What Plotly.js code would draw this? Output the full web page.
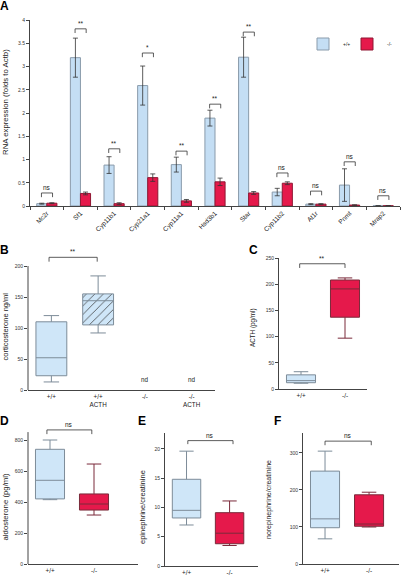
<!DOCTYPE html>
<html><head><meta charset="utf-8">
<script src="https://cdn.plot.ly/plotly-3.0.1.min.js"></script>
<style>html,body{margin:0;padding:0;background:#fff}#chart{width:401px;height:576px}</style>
</head><body><div id="chart"></div>
<script>
// ---------- Panel A data ----------
const genes = ['Mc2r','Sf1','Cyp11b1','Cyp21a1','Cyp11a1','Hsd3b1','Star','Cyp11b2','At1r','Pnmt','Mrap2'];
const wtA    = [0.05, 3.19, 0.88, 2.59, 0.89, 1.89, 3.20, 0.30, 0.04, 0.45, 0.005];
const wtAErr = [0.01, 0.42, 0.18, 0.42, 0.16, 0.17, 0.43, 0.08, 0.01, 0.35, 0];
const koA    = [0.06, 0.27, 0.05, 0.61, 0.11, 0.52, 0.28, 0.49, 0.04, 0.02, 0.005];
const koAErr = [0.01, 0.03, 0.02, 0.08, 0.03, 0.08, 0.03, 0.03, 0.01, 0.005, 0];
const sigA   = ['ns','**','**','*','**','**','**','ns','ns','ns','ns'];
const sigAy  = [0.28, 3.81, 1.23, 3.29, 1.18, 2.19, 3.74, 0.71, 0.32, 0.95, 0.22];
const legendLabels = ['+/+','-/-'];

// ---------- Panel B data (corticosterone) ----------
const groupsB = ['+/+','+/+<br>ACTH','-/-','-/-<br>ACTH'];
const q1B  = [23, 105];
const medB = [52, 144];
const q3B  = [110, 155];
const lfB  = [13, 92];
const ufB  = [120, 184];
const ndB  = ['nd','nd'];
const ticksB = [0,50,100,150,200];

// ---------- Panel C data (ACTH) ----------
const groupsC = ['+/+','-/-'];
const q1C  = [12, 137];
const medC = [16, 191];
const q3C  = [27, 208];
const lfC  = [11, 97];
const ufC  = [33, 212];
const ticksC = [0,50,100,150,200,250];

// ---------- Panel D data (aldosterone) ----------
const groupsD = ['+/+','-/-'];
const q1D  = [420, 348];
const medD = [540, 387];
const q3D  = [740, 452];
const lfD  = [415, 316];
const ufD  = [800, 645];
const ticksD = [0,200,400,600,800];

// ---------- Panel E data (epinephrine/creatinine) ----------
const groupsE = ['+/+','-/-'];
const q1E  = [8.2, 3.8];
const medE = [9.5, 5.6];
const q3E  = [14.8, 9.1];
const lfE  = [7.0, 3.5];
const ufE  = [19.6, 11.1];
const ticksE = [0,5,10,15,20];

// ---------- Panel F data (norepinephrine/creatinine) ----------
const groupsF = ['+/+','-/-'];
const q1F  = [98, 102];
const medF = [122, 108];
const q3F  = [251, 187];
const lfF  = [68, 100];
const ufF  = [305, 194];
const ticksF = [0,100,200,300];

const yTitles = ['RNA expression (folds to Actb)','corticosterone ng/ml','ACTH (pg/ml)',
  'aldosterone (pg/ml)','epinephrine/creatinine','norepinephrine/creatinine'];

// ---------- styling ----------
const FONT = 'Liberation Sans, Arial, sans-serif';
const BLUE = '#cfe6f8', BLUE_L = '#7d8c99';
const RED = '#e5194b', RED_L = '#7a2a3a';
const AX = '#444';
const W = 401, H = 576;
const dx = (l, r) => [l / W, r / W];
const dy = (t, b) => [1 - b / H, 1 - t / H];

const traces = [];
// Panel A bars
traces.push({type:'bar', x:genes, y:wtA, name:legendLabels[0], xaxis:'x', yaxis:'y', legend:'legend',
  marker:{color:'#c4def4', line:{color:'#8a9bab', width:1}},
  error_y:{type:'data', array:wtAErr, visible:true, color:'#333', thickness:0.8, width:2.5}, hoverinfo:'skip'});
traces.push({type:'bar', x:genes, y:koA, name:legendLabels[1], xaxis:'x', yaxis:'y', legend:'legend2',
  marker:{color:RED, line:{color:'#8f1733', width:1}},
  error_y:{type:'data', array:koAErr, visible:true, color:'#333', thickness:0.8, width:2.5}, hoverinfo:'skip'});

function box(x, q1, med, q3, lf, uf, fill, lc, xa, ya) {
  return {type:'box', x:x, q1:q1, median:med, q3:q3, lowerfence:lf, upperfence:uf,
    boxpoints:false, width:0.66, whiskerwidth:0.5, fillcolor:fill, line:{color:lc, width:1},
    xaxis:xa, yaxis:ya, showlegend:false, hoverinfo:'skip'};
}
// Panel B: hatched fill for ACTH-treated +/+ box (bar from q1 to q3)
traces.push({type:'bar', x:[groupsB[1]], base:[q1B[1]], y:[q3B[1]-q1B[1]], width:0.66,
  marker:{color:BLUE, line:{width:0}, pattern:{shape:'/', fgcolor:'#333', bgcolor:BLUE, size:6, solidity:0.12}},
  xaxis:'x2', yaxis:'y2', showlegend:false, hoverinfo:'skip'});
traces.push(box([groupsB[0]], [q1B[0]], [medB[0]], [q3B[0]], [lfB[0]], [ufB[0]], BLUE, BLUE_L, 'x2', 'y2'));
traces.push(box([groupsB[1]], [q1B[1]], [medB[1]], [q3B[1]], [lfB[1]], [ufB[1]], 'rgba(0,0,0,0)', BLUE_L, 'x2', 'y2'));
traces.push({type:'scatter', x:groupsB.slice(2), y:[null,null], mode:'markers', xaxis:'x2', yaxis:'y2', showlegend:false, hoverinfo:'skip'});
// Panels C-F
[['x3','y3',groupsC,q1C,medC,q3C,lfC,ufC],
 ['x4','y4',groupsD,q1D,medD,q3D,lfD,ufD],
 ['x5','y5',groupsE,q1E,medE,q3E,lfE,ufE],
 ['x6','y6',groupsF,q1F,medF,q3F,lfF,ufF]].forEach(p => {
  traces.push(box([p[2][0]], [p[3][0]], [p[4][0]], [p[5][0]], [p[6][0]], [p[7][0]], BLUE, BLUE_L, p[0], p[1]));
  traces.push(box([p[2][1]], [p[3][1]], [p[4][1]], [p[5][1]], [p[6][1]], [p[7][1]], RED, RED_L, p[0], p[1]));
});

// ---------- axes ----------
const base = {showgrid:false, zeroline:false, showline:true, linecolor:AX, linewidth:1,
  tickcolor:AX, tickfont:{family:FONT, size:5, color:'#333'}};
function xcat(domain, anchor, range, cats) {
  return Object.assign({}, base, {domain, anchor, type:'category', range, categoryorder:'array',
    categoryarray:cats, ticks:'', tickfont:{family:FONT, size:6.3, color:'#222'}});
}
function ylin(domain, anchor, range, tv, showline) {
  return Object.assign({}, base, {domain, anchor, range, tickvals:tv, ticks:'outside', ticklen:3,
    showline:showline !== false});
}

const dA = dy(20, 206), dB = dy(250.5, 390), dC = dy(258, 389), dD = dy(427.6, 564), dE = dy(433, 566), dF = dy(433, 564);
const rB = [0, 225], rD = [0, 880];

const legStyle = {orientation:'h', xanchor:'left', yanchor:'middle', y:1 - 44 / H,
  font:{family:FONT, size:5, color:'#222'}, bgcolor:'rgba(0,0,0,0)', itemwidth:30, borderwidth:0};

const layout = {
  width:W, height:H, margin:{l:0, r:0, t:0, b:0}, paper_bgcolor:'#fff', plot_bgcolor:'rgba(0,0,0,0)',
  font:{family:FONT, color:'#222'}, barmode:'group', bargap:0.4, bargroupgap:0, boxmode:'overlay',
  showlegend:true,
  legend: Object.assign({}, legStyle, {x:(324 - 21) / W}),
  legend2: Object.assign({}, legStyle, {x:(368 - 21) / W}),
  xaxis: Object.assign({}, base, {domain:dx(30, 400), anchor:'y', type:'category', range:[-0.5, 10.5],
    ticks:'outside', tickson:'boundaries', ticklen:3, tickangle:-45, tickfont:{family:FONT, size:6.5, color:'#222'}}),
  yaxis: ylin(dA, 'x', [0, 4], [0,0.5,1,1.5,2,2.5,3,3.5,4]),
  xaxis2: xcat(dx(28, 215), 'y2', [-0.5, 3.5], groupsB),
  yaxis2: ylin(dB, 'x2', rB, ticksB, false),
  xaxis3: xcat(dx(279, 367), 'y3', [-0.5, 1.5], groupsC),
  yaxis3: ylin(dC, 'x3', [0, 250], ticksC),
  xaxis4: xcat(dx(28, 138), 'y4', [-0.5, 2.0], groupsD),
  yaxis4: ylin(dD, 'x4', rD, ticksD, false),
  xaxis5: xcat(dx(165, 258), 'y5', [-0.5, 1.66], groupsE),
  yaxis5: ylin(dE, 'x5', [0, 22.7], ticksE),
  xaxis6: xcat(dx(303, 399), 'y6', [-0.5, 1.68], groupsF),
  yaxis6: ylin(dF, 'x6', [0, 354], ticksF),
  shapes:[], annotations:[]
};

// manual y-axis lines where the range is extended to hold the brackets
function axisLine(xpx, dom, range, top) {
  const y1 = dom[0] + (top - range[0]) / (range[1] - range[0]) * (dom[1] - dom[0]);
  layout.shapes.push({type:'line', xref:'paper', yref:'paper', x0:xpx / W, x1:xpx / W, y0:dom[0], y1:y1,
    line:{color:AX, width:1}});
}
axisLine(28, dB, rB, 200);
axisLine(28, dD, rD, 851);

// significance brackets
function bracket(xa, ya, x0, x1, y, leg, label, size) {
  const ln = {color:'#333', width:0.8};
  layout.shapes.push({type:'line', xref:xa, yref:ya, x0:x0, x1:x1, y0:y, y1:y, line:ln});
  layout.shapes.push({type:'line', xref:xa, yref:ya, x0:x0, x1:x0, y0:y, y1:y - leg, line:ln});
  layout.shapes.push({type:'line', xref:xa, yref:ya, x0:x1, x1:x1, y0:y, y1:y - leg, line:ln});
  layout.annotations.push({xref:xa, yref:ya, x:(x0 + x1) / 2, y:y, text:label, showarrow:false,
    yanchor:'bottom', yshift:0, font:{family:FONT, size:size, color:'#222'}});
}
genes.forEach((g, i) => bracket('x', 'y', i - 0.16, i + 0.17, sigAy[i], 0.09, sigA[i], 6.5));
bracket('x2', 'y2', -0.05, 0.98, 214, 7, '**', 6.5);
bracket('x3', 'y3', -0.03, 1.0, 239, 8, '**', 6.5);
bracket('x4', 'y4', -0.07, 0.95, 865, 27, 'ns', 6.5);
bracket('x5', 'y5', 0.03, 1.08, 21.4, 0.6, 'ns', 6.5);
bracket('x6', 'y6', 0.0, 1.05, 332, 11, 'ns', 6.5);

// "nd" labels in B
ndB.forEach((t, i) => layout.annotations.push({xref:'x2', yref:'y2', x:groupsB[i + 2], y:17, text:t,
  showarrow:false, font:{family:FONT, size:6.3, color:'#222'}}));

// y-axis titles (rotated text)
[[0, 5, 102, 7.8], [1, 4.5, 327, 7.5], [2, 253, 328, 6.3], [3, 4.5, 507, 7.8], [4, 142, 507, 7.5], [5, 269, 500, 7]]
  .forEach(p => layout.annotations.push({xref:'paper', yref:'paper', x:p[1] / W, y:1 - p[2] / H,
    text:yTitles[p[0]], textangle:-90, showarrow:false, xanchor:'center', yanchor:'middle',
    font:{family:FONT, size:p[3], color:'#222'}}));

// panel letters
[['A', 4, 6], ['B', 4, 250], ['C', 253, 250], ['D', 4, 421], ['E', 142, 421], ['F', 277, 421]].forEach(p =>
  layout.annotations.push({xref:'paper', yref:'paper', x:p[1] / W, y:1 - p[2] / H, text:'<b>' + p[0] + '</b>',
    showarrow:false, xanchor:'center', yanchor:'middle', font:{family:FONT, size:12, color:'#000'}}));

Plotly.newPlot('chart', traces, layout, {displayModeBar:false, staticPlot:true});
</script></body></html>
